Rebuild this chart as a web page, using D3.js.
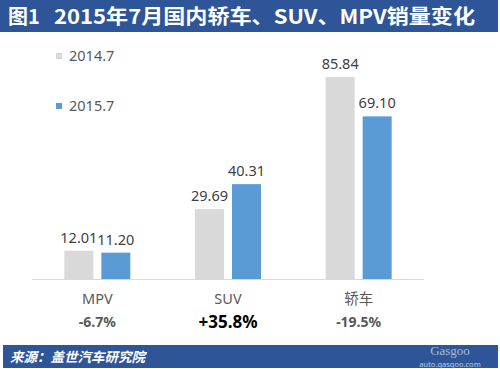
<!DOCTYPE html>
<html><head><meta charset="utf-8">
<script src="https://cdn.jsdelivr.net/npm/d3@7"></script>
<style>body{margin:0;background:#fff;}svg{display:block;}</style>
</head><body>
<svg id="c" width="500" height="369"></svg>
<script>
const categories = ["MPV", "SUV", "轿车"];
const series2014 = [12.01, 29.69, 85.84];
const series2015 = [11.20, 40.31, 69.10];
const changes = ["-6.7%", "+35.8%", "-19.5%"];
const seriesNames = ["2014.7", "2015.7"];
const colors = ["#d9d9d9", "#5b9bd5"];

const svg = d3.select("#c");
const font = "'Noto Sans', 'Noto Sans CJK SC', sans-serif";

// title bar
svg.append("rect").attr("x",0).attr("y",0).attr("width",498).attr("height",32).attr("fill","#2d5597");
const title = svg.append("text").attr("y",24).attr("fill","#fff")
  .attr("font-family","'Noto Sans CJK SC', sans-serif").attr("font-weight","bold").attr("font-size",20);
title.append("tspan").attr("x",8).text("图1");
title.append("tspan").attr("x",54).attr("textLength",421).attr("lengthAdjust","spacingAndGlyphs")
  .text("2015年7月国内轿车、SUV、MPV销量变化");

const x0 = d3.scaleBand().domain(categories).range([32, 424]);
const x1 = d3.scaleBand().domain([0,1]).range([0, 66]).paddingInner(0.216);
const y = d3.scaleLinear().domain([0, 85.84]).range([279, 77]);

// baseline
svg.append("line").attr("x1",32).attr("x2",424).attr("y1",279.5).attr("y2",279.5)
  .attr("stroke","#d9d9d9").attr("stroke-width",1);

const data = categories.map((c,i)=>({c, v:[series2014[i], series2015[i]], ch:changes[i]}));
const g = svg.selectAll("g.cat").data(data).join("g").attr("class","cat")
  .attr("transform", d=>`translate(${x0(d.c)+x0.bandwidth()/2-33},0)`);
g.selectAll("rect").data(d=>d.v.map((v,k)=>({v,k}))).join("rect")
  .attr("x",d=>x1(d.k)).attr("width",x1.bandwidth())
  .attr("y",d=>y(d.v)).attr("height",d=>279-y(d.v)).attr("fill",d=>colors[d.k]);
g.selectAll("text.val").data(d=>d.v.map((v,k)=>({v,k}))).join("text").attr("class","val")
  .attr("x",d=>x1(d.k)+x1.bandwidth()/2).attr("y",d=>y(d.v)-8)
  .attr("text-anchor","middle").attr("font-family",font).attr("font-size",14.5).attr("fill","#404040")
  .text(d=>d.v.toFixed(2));

// category labels
svg.selectAll("text.cat").data(data).join("text").attr("class","cat")
  .attr("x",d=>x0(d.c)+x0.bandwidth()/2).attr("y",304)
  .attr("text-anchor","middle").attr("font-family",font).attr("font-size",14.5).attr("fill","#595959")
  .text(d=>d.c);
svg.selectAll("text.chg").data(data).join("text").attr("class","chg")
  .attr("x",d=>x0(d.c)+x0.bandwidth()/2).attr("y",d=>d.ch.startsWith("+")?328:327)
  .attr("text-anchor","middle").attr("font-family",font)
  .attr("font-weight","bold")
  .attr("font-size",d=>d.ch.startsWith("+")?17:14)
  .attr("fill",d=>d.ch.startsWith("+")?"#000":"#595959")
  .text(d=>d.ch);

// legend
const leg = svg.selectAll("g.leg").data(seriesNames).join("g").attr("class","leg")
  .attr("transform",(d,i)=>`translate(56,${53+i*50})`);
leg.append("rect").attr("width",6).attr("height",6).attr("fill",(d,i)=>colors[i]);
leg.append("text").attr("x",13).attr("y",8).attr("font-family",font).attr("font-size",14.5)
  .attr("fill","#595959").text(d=>d);

// footer
svg.append("rect").attr("x",3).attr("y",345).attr("width",495).attr("height",23).attr("fill","#2d5597");
svg.append("text").attr("x",10).attr("y",362).attr("fill","#fff")
  .attr("font-family","'Noto Sans CJK SC', sans-serif").attr("font-weight","bold").attr("font-style","italic")
  .attr("font-size",13.5).text("来源：盖世汽车研究院");
// watermark
svg.append("text").attr("x",450).attr("y",355).attr("text-anchor","middle").attr("fill","#c9d3e6")
  .attr("font-family","'Liberation Serif', serif").attr("font-size",13).attr("opacity",0.8).text("Gasgoo");
svg.append("text").attr("x",450).attr("y",367).attr("text-anchor","middle").attr("fill","#dfe6f2")
  .attr("font-family",font).attr("font-size",7.5).attr("opacity",0.8).text("auto.gasgoo.com");
</script>
</body></html>
